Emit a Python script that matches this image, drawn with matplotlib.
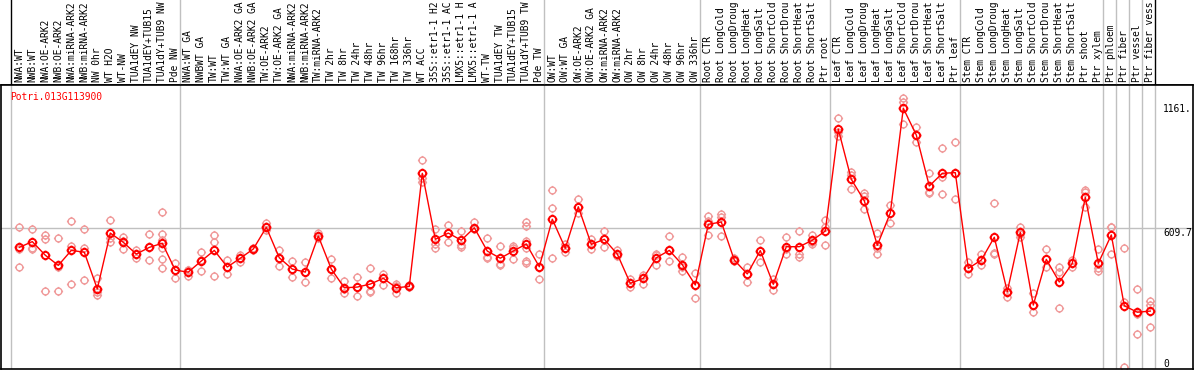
import matplotlib
matplotlib.use("Agg")
import matplotlib.pyplot as plt
import matplotlib.path as mpath
import numpy as np

# ---------------- data ----------------
gene_id = "Potri.013G113900"

labels = [
    "NWA:WT", "NWB:WT", "NWA:OE-ARK2", "NWB:OE-ARK2", "NWA:miRNA-ARK2", "NWB:miRNA-ARK2",
    "NW 0hr", "WT H2O", "WT-NW", "TUA1dEY NW", "TUA1dEY+TUB15", "TUA1dY+TUB9 NW", "Pde NW",
    "NWA:WT GA", "NWBWT GA", "TW:WT", "TW:WT GA", "NWA:OE-ARK2 GA", "NWB:OE-ARK2 GA",
    "TW:OE-ARK2", "TW:OE-ARK2 GA", "NWA:miRNA-ARK2", "NWB:miRNA-ARK2", "TW:miRNA-ARK2",
    "TW 2hr", "TW 8hr", "TW 24hr", "TW 48hr", "TW 96hr", "TW 168hr", "TW 336hr", "WT ACC",
    "35S::etr1-1 H2", "35S::etr1-1 AC", "LMX5::etr1-1 H", "LMX5::etr1-1 A", "WT-TW",
    "TUA1dEY TW", "TUA1dEY+TUB15", "TUA1dY+TUB9 TW", "Pde TW",
    "OW:WT", "OW:WT GA", "OW:OE-ARK2", "OW:OE-ARK2 GA", "OW:miRNA-ARK2", "OW:miRNA-ARK2",
    "OW 2hr", "OW 8hr", "OW 24hr", "OW 48hr", "OW 96hr", "OW 336hr",
    "Root CTR", "Root LongCold", "Root LongDroug", "Root LongHeat", "Root LongSalt",
    "Root ShortCold", "Root ShortDrou", "Root ShortHeat", "Root ShortSalt", "Ptr root",
    "Leaf CTR", "Leaf LongCold", "Leaf LongDroug", "Leaf LongHeat", "Leaf LongSalt",
    "Leaf ShortCold", "Leaf ShortDrou", "Leaf ShortHeat", "Leaf ShortSalt", "Ptr leaf",
    "Stem CTR", "Stem LongCold", "Stem LongDroug", "Stem LongHeat", "Stem LongSalt",
    "Stem ShortCold", "Stem ShortDrou", "Stem ShortHeat", "Stem ShortSalt", "Ptr shoot",
    "Ptr xylem", "Ptr phloem", "Ptr fiber", "Ptr vessel", "Ptr fiber vess",
]

means = [
    527, 552, 493, 449, 514, 506, 347, 589, 549, 498, 527, 545, 428,
    420, 468, 514, 442, 480, 520, 614, 482, 433, 420, 576, 433, 352, 355, 368, 393, 352, 358,
    848, 562, 589, 558, 612, 511, 480, 511, 542, 443,
    649, 523, 703, 540, 562, 498, 371, 393, 482, 514, 452, 364,
    627, 637, 472, 412, 513, 367, 530, 530, 558, 598,
    1039, 822, 729, 536, 676, 1130, 1014, 793, 848, 851,
    436, 472, 571, 335, 592, 277, 475, 377, 458, 744,
    458, 581, 274, 246, 251,
]

replicates = [
    [614, 519, 443], [605, 523, 520], [582, 562, 338], [566, 443, 338], [641, 534, 367],
    [605, 526, 386], [393, 321, 335], [646, 552, 569], [573, 520, 555], [516, 480, 498],
    [585, 471, 527], [680, 585, 559, 523, 477, 436], [458, 396, 429],
    [429, 404, 427], [506, 426, 472], [581, 552, 404], [472, 410, 442], [494, 465, 480],
    [525, 516, 519], [631, 614, 602], [514, 446, 482], [468, 399, 433], [465, 376, 420],
    [591, 566, 576], [475, 393, 433], [383, 328, 347], [399, 315, 355], [438, 339, 335],
    [413, 364, 393], [368, 328, 358], [362, 356, 358],
    [906, 826, 812], [605, 540, 523], [625, 589, 549], [598, 537, 530], [638, 605, 612],
    [566, 487, 480], [532, 455, 451], [533, 477, 523], [638, 618, 556, 523, 469, 461],
    [497, 389, 443],
    [774, 696, 480], [540, 506, 523], [735, 677, 703], [562, 520, 540], [598, 530, 562],
    [516, 490, 498], [389, 357, 371], [407, 368, 393], [498, 451, 494], [576, 469, 514],
    [484, 426, 443], [415, 306, 364],
    [663, 579, 640], [672, 660, 575], [480, 466, 472], [441, 378, 412], [558, 465, 513],
    [389, 341, 367], [573, 497, 520], [597, 497, 487], [581, 552, 542], [646, 617, 536],
    [1088, 1028, 1011], [852, 841, 779], [761, 750, 692], [589, 523, 497], [711, 676, 631],
    [1173, 1158, 1062], [1050, 1014, 982], [848, 768, 761], [959, 833, 757], [982, 851, 737],
    [465, 410, 436], [497, 451, 472], [718, 501, 497], [350, 311, 335], [617, 585, 573],
    [328, 248, 277], [520, 441, 475], [443, 422, 263], [472, 443, 458], [776, 766, 703],
    [520, 436, 426], [617, 614, 497], [523, 289, 10], [347, 152, 239], [296, 277, 181],
]

group_starts = [0, 13, 41, 53, 63, 73, 84, 85, 86, 87, 88]
y_tick_labels = ["1161.", "609.7", "0"]
y_grid_value = 609.7

# ---------------- layout ----------------
W, H = 1194, 370
fig = plt.figure(figsize=(W / 100, H / 100), dpi=100)
fig.patch.set_facecolor("white")

MONO = "DejaVu Sans Mono"
FS = 6.9

plot_left, plot_right = 1, 1193
plot_top, plot_bottom = 85, 369
x_first, dx = 19.3, 13.0
xlim = ((plot_left - x_first) / dx, (plot_right - x_first) / dx)
px_per_unit = (369 - 228.3) / 609.7
ylim = (0, (plot_bottom - plot_top) / px_per_unit)

ax = fig.add_axes([plot_left / W, (H - plot_bottom) / H,
                   (plot_right - plot_left) / W, (plot_bottom - plot_top) / H])
ax.set_xlim(*xlim)
ax.set_ylim(*ylim)
ax.set_xticks([])
ax.set_yticks([])
for s in ax.spines.values():
    s.set_color("black")
    s.set_linewidth(1.2)

# header axes
hax = fig.add_axes([plot_left / W, (H - plot_top) / H,
                    (plot_right - plot_left) / W, plot_top / H])
hax.set_xlim(*xlim)
hax.set_ylim(0, plot_top)
hax.axis("off")

# grid lines
xs = np.arange(len(means))
bounds = [g - 0.62 for g in group_starts]
for i, b in enumerate(bounds):
    ax.axvline(b, color="#c0c0c0", lw=1.0, zorder=0)
    hc = "black" if i in (0, len(bounds) - 1) else "#c0c0c0"
    hax.axvline(b, color=hc, lw=1.0, zorder=0)
ax.axhline(y_grid_value, color="#c0c0c0", lw=1.0, zorder=0)
hax.axhline(0, color="black", lw=1.2)

# header labels
for k, lab in enumerate(labels):
    hax.text(k, 3.5, lab, rotation=90, ha="center", va="bottom",
             fontsize=FS, family=MONO, color="black", clip_on=False)

# marker: circle with 4 short ticks
circ = mpath.Path.unit_circle()
verts = list(circ.vertices)
codes = list(circ.codes)
t = 1.35
for (a, b) in [((0, 1), (0, t)), ((0, -1), (0, -t)), ((1, 0), (t, 0)), ((-1, 0), (-t, 0))]:
    verts += [a, b]
    codes += [mpath.Path.MOVETO, mpath.Path.LINETO]
tick_circle = mpath.Path(verts, codes)

# replicates
for k, reps in enumerate(replicates):
    ax.plot([k] * len(reps), reps, linestyle="none", marker=tick_circle,
            markersize=6.6, markerfacecolor="none", markeredgecolor="#f09a9a",
            markeredgewidth=1.0, zorder=2)

# mean line + markers
ax.plot(xs, means, color="#ff0000", lw=1.0, zorder=3)
ax.plot(xs, means, linestyle="none", marker=tick_circle, markersize=7.0,
        markerfacecolor="none", markeredgecolor="#ff0000", markeredgewidth=1.4, zorder=4)

# title
fig.text(10 / W, 1 - 97 / H, gene_id, color="#ff0000", fontsize=FS, family=MONO,
         ha="left", va="center")

# right axis labels
label_tops = [104, 228, 359]
for lab, ytop in zip(y_tick_labels, label_tops):
    fig.text(1163 / W, 1 - ytop / H, lab, color="black", fontsize=FS, family=MONO,
             ha="left", va="top")

fig.savefig("out.png", dpi=100)
